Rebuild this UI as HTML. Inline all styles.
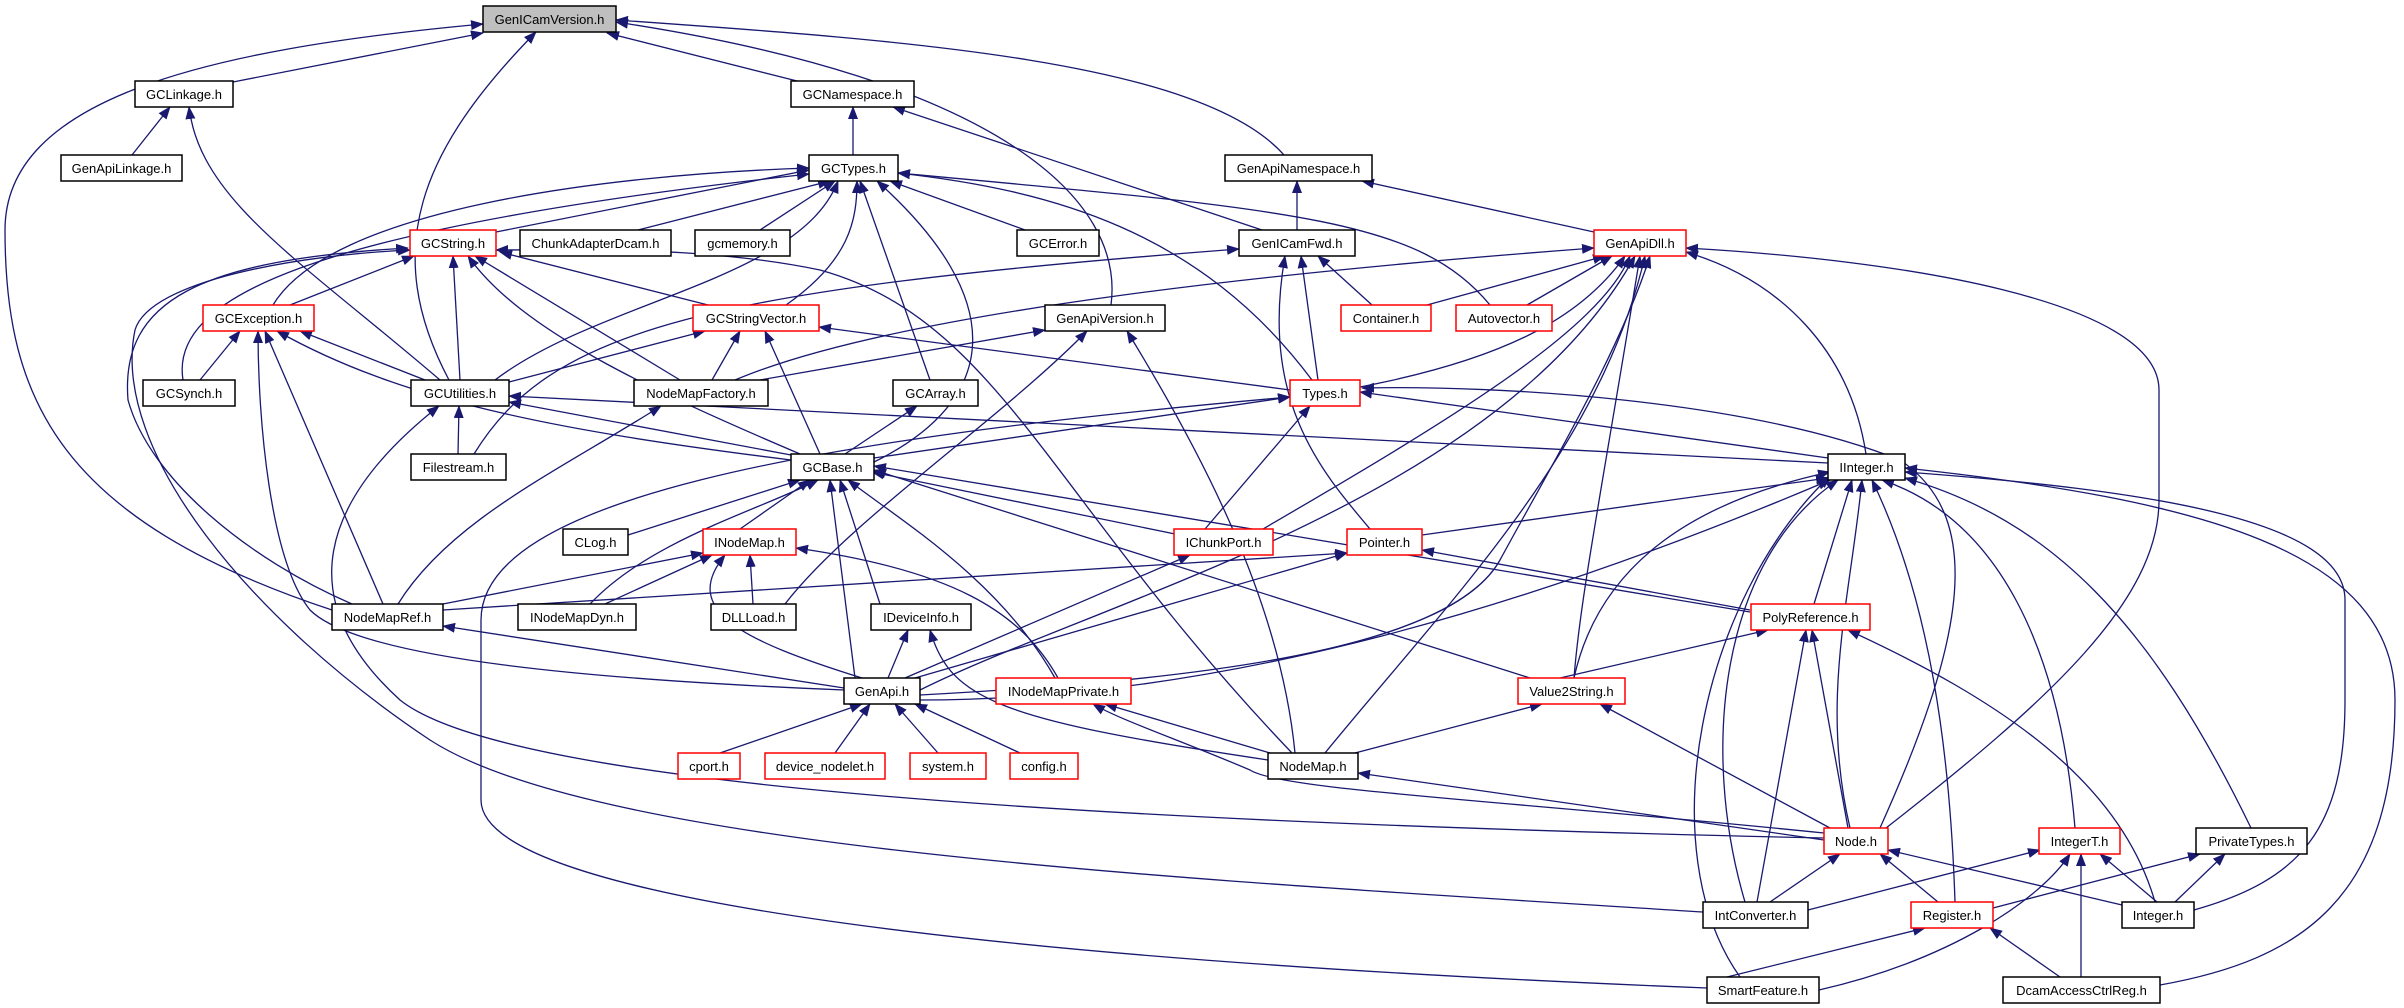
<!DOCTYPE html>
<html><head><meta charset="utf-8"><style>
html,body{margin:0;padding:0;background:#fff;}
svg{display:block;}
text{font-family:"Liberation Sans",sans-serif;font-size:13px;fill:#000;text-anchor:middle;}
.e{fill:none;stroke:#191970;stroke-width:1.3;marker-end:url(#a);}
.n{fill:#fff;stroke:#000;stroke-width:1.5;}
.r{fill:#fff;stroke:#ff0000;stroke-width:1.5;}
</style></head><body>
<svg width="2404" height="1008" viewBox="0 0 2404 1008" xmlns="http://www.w3.org/2000/svg">
<defs><marker id="a" markerWidth="13" markerHeight="10" refX="12" refY="5" orient="auto" markerUnits="userSpaceOnUse"><path d="M0,0 L13,5 L0,10 z" fill="#191970"/></marker></defs>
<g>
<!-- GenICamVersion -->
<path class="e" d="M332,610 C60,520 5,400 5,230 C5,100 200,50 483,24"/>
<path class="e" d="M233,82 L483,33"/>
<path class="e" d="M449,380 C380,250 420,150 536,32"/>
<path class="e" d="M801,82 L607,33"/>
<path class="e" d="M1111,305 C1125,200 1000,80 616,22"/>
<path class="e" d="M1284,155 C1200,60 900,40 616,20"/>
<!-- GCLinkage -->
<path class="e" d="M132,155 L170,107"/>
<path class="e" d="M440,380 C300,260 200,200 189,107"/>
<!-- GCNamespace -->
<path class="e" d="M853,155 L853,107"/>
<path class="e" d="M1262,230 L893,107"/>
<!-- GCTypes -->
<path class="e" d="M496,232 L809,170"/>
<path class="e" d="M638,230 L830,181"/>
<path class="e" d="M760,230 L835,181"/>
<path class="e" d="M1025,230 L890,181"/>
<path class="e" d="M273,305 C330,210 600,175 809,168"/>
<path class="e" d="M183,380 C170,300 300,230 809,174"/>
<path class="e" d="M495,380 C600,300 800,280 838,181"/>
<path class="e" d="M786,305 C850,260 857,220 857,181"/>
<path class="e" d="M930,380 L860,181"/>
<path class="e" d="M874,462 C1000,400 1010,300 877,181"/>
<path class="e" d="M1312,380 C1200,230 1050,190 898,173"/>
<path class="e" d="M1490,305 C1420,220 1300,210 898,173"/>
<!-- GenApiNamespace -->
<path class="e" d="M1297,230 L1297,181"/>
<path class="e" d="M1594,232 L1362,181"/>
<!-- GenICamFwd -->
<path class="e" d="M474,454 C550,330 700,290 1239,249"/>
<path class="e" d="M1318,380 L1301,256"/>
<path class="e" d="M1372,305 L1318,256"/>
<path class="e" d="M1370,529 C1320,470 1260,400 1285,256"/>
<!-- GCString -->
<path class="e" d="M290,305 L414,256"/>
<path class="e" d="M460,380 L453,256"/>
<path class="e" d="M680,380 L475,256"/>
<path class="e" d="M708,305 L500,252"/>
<path class="e" d="M800,454 C650,390 520,330 468,256"/>
<path class="e" d="M1292,753 C1050,500 1000,320 820,270 C700,245 560,250 496,250"/>
<path class="e" d="M352,604 C250,560 150,480 128,400 C120,300 200,260 408,248"/>
<path class="e" d="M1703,912 C1200,880 600,850 430,740 C250,620 110,450 135,330 C150,280 300,255 410,250"/>
<!-- GenApiDll -->
<path class="e" d="M1427,305 L1605,256"/>
<path class="e" d="M1527,305 L1612,256"/>
<path class="e" d="M1360,387 C1500,360 1580,320 1625,256"/>
<path class="e" d="M735,380 C900,310 1300,270 1594,248"/>
<path class="e" d="M1263,529 C1450,420 1600,330 1630,256"/>
<path class="e" d="M1866,454 C1850,350 1780,280 1686,252"/>
<path class="e" d="M1574,678 C1580,600 1600,500 1640,256"/>
<path class="e" d="M1325,753 C1450,600 1600,450 1645,256"/>
<path class="e" d="M1886,828 C2050,700 2159,600 2159,500 L2159,390 C2159,300 1900,260 1686,248"/>
<path class="e" d="M920,690 C1100,600 1500,500 1635,256"/>
<path class="e" d="M920,695 C1200,680 1450,650 1500,560 C1560,450 1620,350 1650,256"/>
<!-- GenApiVersion -->
<path class="e" d="M760,380 L1045,330"/>
<path class="e" d="M785,604 C850,520 1000,420 1087,331"/>
<path class="e" d="M1295,753 C1280,600 1200,450 1127,331"/>
<!-- GCStringVector -->
<path class="e" d="M509,382 L705,331"/>
<path class="e" d="M712,380 L740,331"/>
<path class="e" d="M820,454 L765,331"/>
<path class="e" d="M1290,390 L819,327"/>
<!-- GCException -->
<path class="e" d="M200,380 L240,331"/>
<path class="e" d="M425,380 L300,331"/>
<path class="e" d="M791,460 C550,430 400,400 277,331"/>
<path class="e" d="M383,604 L265,331"/>
<path class="e" d="M844,690 C600,680 360,660 310,610 C270,560 258,420 258,331"/>
<!-- GCUtilities -->
<path class="e" d="M458,454 L459,406"/>
<path class="e" d="M791,455 L509,402"/>
<path class="e" d="M1828,463 L509,396"/>
<path class="e" d="M1824,838 C1000,820 500,780 400,700 C290,600 320,500 439,406"/>
<!-- NodeMapFactory -->
<path class="e" d="M398,604 C450,520 560,470 661,406"/>
<!-- GCArray -->
<path class="e" d="M845,454 L917,406"/>
<!-- Types -->
<path class="e" d="M874,458 L1290,397"/>
<path class="e" d="M1205,529 L1310,406"/>
<path class="e" d="M1828,458 L1360,392"/>
<path class="e" d="M1880,828 C1960,650 1990,520 1900,460 C1750,400 1500,385 1362,388"/>
<path class="e" d="M1707,988 C1000,960 481,900 481,800 L481,620 C481,500 800,440 1290,397"/>
<!-- GCBase -->
<path class="e" d="M628,535 L800,480"/>
<path class="e" d="M740,529 L810,480"/>
<path class="e" d="M590,604 C650,540 760,510 818,480"/>
<path class="e" d="M880,604 L840,480"/>
<path class="e" d="M855,678 L830,480"/>
<path class="e" d="M1055,678 C1000,580 900,520 848,480"/>
<path class="e" d="M1180,535 L872,472"/>
<path class="e" d="M1530,678 L874,470"/>
<path class="e" d="M1750,612 L874,466"/>
<!-- IInteger -->
<path class="e" d="M1422,535 L1828,478"/>
<path class="e" d="M1814,604 L1852,480"/>
<path class="e" d="M1745,902 C1700,750 1720,560 1838,480"/>
<path class="e" d="M1850,828 C1820,700 1850,600 1862,480"/>
<path class="e" d="M1955,902 C1950,750 1930,600 1872,480"/>
<path class="e" d="M2075,828 C2060,650 2000,520 1882,480"/>
<path class="e" d="M2251,828 C2150,620 2050,520 1905,478"/>
<path class="e" d="M2194,910 C2300,880 2345,830 2345,700 L2345,600 C2345,520 2150,490 1905,472"/>
<path class="e" d="M2160,985 C2300,960 2395,900 2395,700 C2395,550 2200,500 1905,468"/>
<path class="e" d="M1740,977 C1650,850 1700,600 1830,476"/>
<path class="e" d="M1574,678 C1600,560 1700,500 1830,472"/>
<path class="e" d="M920,700 C1200,700 1500,620 1830,480"/>
<!-- Pointer -->
<path class="e" d="M443,610 L1347,553"/>
<path class="e" d="M915,678 L1347,553"/>
<path class="e" d="M1750,610 L1422,550"/>
<!-- IChunkPort -->
<path class="e" d="M905,678 L1190,555"/>
<!-- INodeMap -->
<path class="e" d="M443,604 L703,553"/>
<path class="e" d="M605,604 L712,555"/>
<path class="e" d="M753,604 L750,555"/>
<path class="e" d="M862,678 C740,640 680,610 725,555"/>
<path class="e" d="M1058,678 C1020,610 950,570 796,548"/>
<!-- NodeMapRef -->
<path class="e" d="M844,688 L443,626"/>
<!-- IDeviceInfo -->
<path class="e" d="M888,678 L908,630"/>
<path class="e" d="M1268,760 C1000,720 950,700 930,630"/>
<!-- PolyReference -->
<path class="e" d="M1560,678 L1768,630"/>
<path class="e" d="M1848,828 L1812,630"/>
<path class="e" d="M1757,902 L1806,630"/>
<path class="e" d="M2155,902 C2120,780 2000,700 1848,630"/>
<!-- GenApi -->
<path class="e" d="M720,753 L862,704"/>
<path class="e" d="M835,753 L870,704"/>
<path class="e" d="M938,753 L895,704"/>
<path class="e" d="M1020,753 L915,704"/>
<!-- INodeMapPrivate -->
<path class="e" d="M1270,753 L1105,704"/>
<path class="e" d="M1824,833 C1500,800 1280,790 1250,770 C1180,740 1120,720 1093,704"/>
<!-- Value2String -->
<path class="e" d="M1355,753 L1542,704"/>
<path class="e" d="M1830,828 L1600,704"/>
<!-- NodeMap -->
<path class="e" d="M1824,840 L1358,773"/>
<!-- Node -->
<path class="e" d="M1770,902 L1840,854"/>
<path class="e" d="M1938,902 L1880,854"/>
<path class="e" d="M2122,905 L1888,850"/>
<!-- IntegerT -->
<path class="e" d="M1808,910 L2040,850"/>
<path class="e" d="M1819,990 C1950,960 2040,900 2070,854"/>
<path class="e" d="M2081,977 L2081,854"/>
<path class="e" d="M2157,902 L2100,854"/>
<!-- PrivateTypes -->
<path class="e" d="M1993,908 L2200,854"/>
<path class="e" d="M2175,902 L2225,854"/>
<!-- Register -->
<path class="e" d="M1727,977 L1925,928"/>
<path class="e" d="M2060,977 L1990,928"/>
</g>
<g>
<rect x="483" y="6" width="133" height="26" fill="#bfbfbf" stroke="#000" stroke-width="1.5"/><text x="549.5" y="24">GenICamVersion.h</text>
<rect class="n" x="135" y="81" width="98" height="26"/><text x="184" y="99">GCLinkage.h</text>
<rect class="n" x="791" y="81" width="123" height="26"/><text x="852.5" y="99">GCNamespace.h</text>
<rect class="n" x="61" y="155" width="121" height="26"/><text x="121.5" y="173">GenApiLinkage.h</text>
<rect class="n" x="809" y="155" width="89" height="26"/><text x="853.5" y="173">GCTypes.h</text>
<rect class="n" x="1225" y="155" width="147" height="26"/><text x="1298.5" y="173">GenApiNamespace.h</text>
<rect class="r" x="410" y="230" width="86" height="26"/><text x="453" y="248">GCString.h</text>
<rect class="n" x="520" y="230" width="151" height="26"/><text x="595.5" y="248">ChunkAdapterDcam.h</text>
<rect class="n" x="695" y="230" width="95" height="26"/><text x="742.5" y="248">gcmemory.h</text>
<rect class="n" x="1017" y="230" width="82" height="26"/><text x="1058" y="248">GCError.h</text>
<rect class="n" x="1239" y="230" width="116" height="26"/><text x="1297" y="248">GenICamFwd.h</text>
<rect class="r" x="1594" y="230" width="92" height="26"/><text x="1640" y="248">GenApiDll.h</text>
<rect class="r" x="203" y="305" width="111" height="26"/><text x="258.5" y="323">GCException.h</text>
<rect class="r" x="693" y="305" width="126" height="26"/><text x="756" y="323">GCStringVector.h</text>
<rect class="n" x="1045" y="305" width="120" height="26"/><text x="1105" y="323">GenApiVersion.h</text>
<rect class="r" x="1341" y="305" width="90" height="26"/><text x="1386" y="323">Container.h</text>
<rect class="r" x="1456" y="305" width="96" height="26"/><text x="1504" y="323">Autovector.h</text>
<rect class="n" x="143" y="380" width="92" height="26"/><text x="189" y="398">GCSynch.h</text>
<rect class="n" x="411" y="380" width="98" height="26"/><text x="460" y="398">GCUtilities.h</text>
<rect class="n" x="634" y="380" width="134" height="26"/><text x="701" y="398">NodeMapFactory.h</text>
<rect class="n" x="893" y="380" width="85" height="26"/><text x="935.5" y="398">GCArray.h</text>
<rect class="r" x="1290" y="380" width="70" height="26"/><text x="1325" y="398">Types.h</text>
<rect class="n" x="411" y="454" width="95" height="26"/><text x="458.5" y="472">Filestream.h</text>
<rect class="n" x="791" y="454" width="83" height="26"/><text x="832.5" y="472">GCBase.h</text>
<rect class="n" x="1828" y="454" width="77" height="26"/><text x="1866.5" y="472">IInteger.h</text>
<rect class="n" x="563" y="529" width="65" height="26"/><text x="595.5" y="547">CLog.h</text>
<rect class="r" x="703" y="529" width="93" height="26"/><text x="749.5" y="547">INodeMap.h</text>
<rect class="r" x="1174" y="529" width="99" height="26"/><text x="1223.5" y="547">IChunkPort.h</text>
<rect class="r" x="1347" y="529" width="75" height="26"/><text x="1384.5" y="547">Pointer.h</text>
<rect class="n" x="332" y="604" width="111" height="26"/><text x="387.5" y="622">NodeMapRef.h</text>
<rect class="n" x="518" y="604" width="118" height="26"/><text x="577" y="622">INodeMapDyn.h</text>
<rect class="n" x="711" y="604" width="85" height="26"/><text x="753.5" y="622">DLLLoad.h</text>
<rect class="n" x="871" y="604" width="100" height="26"/><text x="921" y="622">IDeviceInfo.h</text>
<rect class="r" x="1751" y="604" width="119" height="26"/><text x="1810.5" y="622">PolyReference.h</text>
<rect class="n" x="844" y="678" width="76" height="26"/><text x="882" y="696">GenApi.h</text>
<rect class="r" x="996" y="678" width="135" height="26"/><text x="1063.5" y="696">INodeMapPrivate.h</text>
<rect class="r" x="1518" y="678" width="107" height="26"/><text x="1571.5" y="696">Value2String.h</text>
<rect class="r" x="678" y="753" width="62" height="26"/><text x="709" y="771">cport.h</text>
<rect class="r" x="765" y="753" width="120" height="26"/><text x="825" y="771">device_nodelet.h</text>
<rect class="r" x="910" y="753" width="76" height="26"/><text x="948" y="771">system.h</text>
<rect class="r" x="1010" y="753" width="68" height="26"/><text x="1044" y="771">config.h</text>
<rect class="n" x="1268" y="753" width="90" height="26"/><text x="1313" y="771">NodeMap.h</text>
<rect class="r" x="1824" y="828" width="64" height="26"/><text x="1856" y="846">Node.h</text>
<rect class="r" x="2039" y="828" width="81" height="26"/><text x="2079.5" y="846">IntegerT.h</text>
<rect class="n" x="2196" y="828" width="111" height="26"/><text x="2251.5" y="846">PrivateTypes.h</text>
<rect class="n" x="1703" y="902" width="105" height="26"/><text x="1755.5" y="920">IntConverter.h</text>
<rect class="r" x="1911" y="902" width="82" height="26"/><text x="1952" y="920">Register.h</text>
<rect class="n" x="2122" y="902" width="72" height="26"/><text x="2158" y="920">Integer.h</text>
<rect class="n" x="1707" y="977" width="112" height="26"/><text x="1763" y="995">SmartFeature.h</text>
<rect class="n" x="2003" y="977" width="157" height="26"/><text x="2081.5" y="995">DcamAccessCtrlReg.h</text>
</g>
</svg>
</body></html>
